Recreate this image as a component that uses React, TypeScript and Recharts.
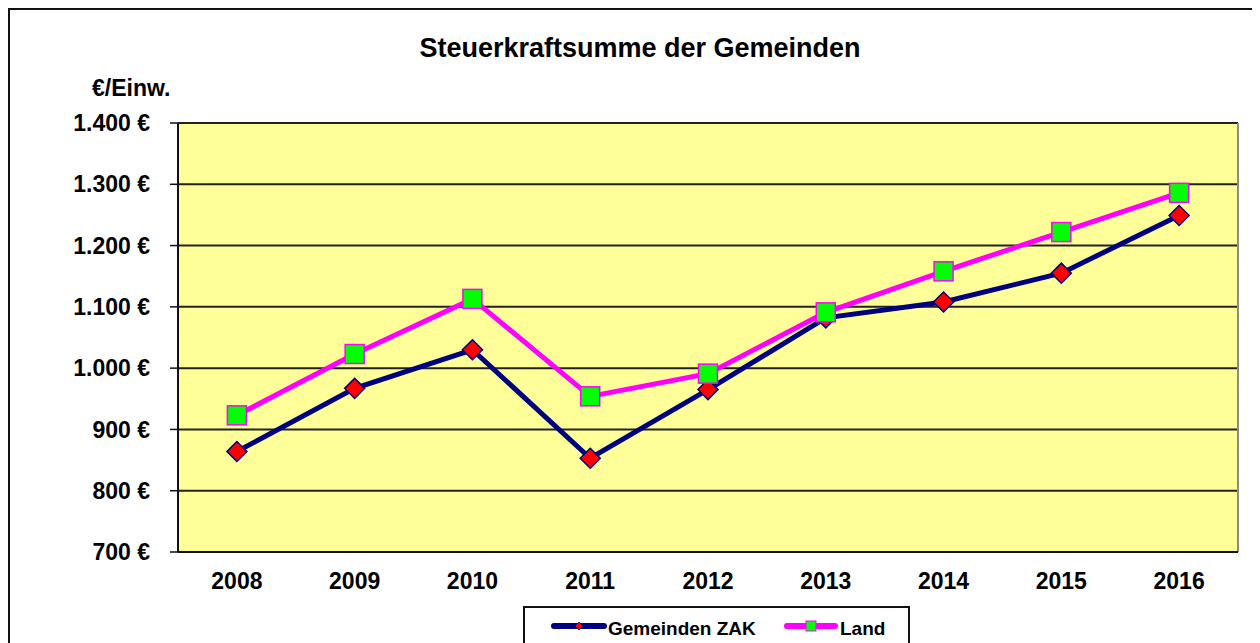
import React from 'react';
import { LineChart, Line, XAxis, YAxis, CartesianGrid, ReferenceLine } from 'recharts';

const years = ['2008', '2009', '2010', '2011', '2012', '2013', '2014', '2015', '2016'];
const zakValues = [864, 967, 1030, 853, 965, 1082, 1108, 1155, 1249];
const landValues = [923, 1023, 1113, 954, 991, 1091, 1158, 1222, 1286];
const yTicks = [700, 800, 900, 1000, 1100, 1200, 1300, 1400];
const seriesNames = ['Gemeinden ZAK', 'Land'];
const title = 'Steuerkraftsumme der Gemeinden';
const yUnit = '€/Einw.';

const data = years.map((year, i) => ({ pos: i + 0.5, year, zak: zakValues[i], land: landValues[i] }));
const boundaryTicks = years.map((_, i) => i).concat([years.length]);
const centerTicks = years.map((_, i) => i + 0.5);

const FONT = '"Liberation Sans", Arial, Helvetica, sans-serif';
const NAVY = '#000080';
const MAGENTA = '#FF00FF';
const RED = '#FF0000';
const GREEN = '#00FF00';

const fmtY = (v: number) => String(v).replace(/\B(?=(\d{3})+(?!\d))/g, '.') + ' €';
const fmtX = (v: number) => years[Math.round(v - 0.5)] ?? '';

const Diamond = (props: any) => {
  const { cx, cy, index } = props;
  if (cx == null || cy == null) return <g key={'d' + index} />;
  const r = 10;
  return (
    <path
      key={'d' + index}
      d={`M${cx},${cy - r}L${cx + r},${cy}L${cx},${cy + r}L${cx - r},${cy}Z`}
      fill={RED}
      stroke={NAVY}
      strokeWidth={1.5}
    />
  );
};

const Square = (props: any) => {
  const { cx, cy, index } = props;
  if (cx == null || cy == null) return <g key={'s' + index} />;
  const s = 19;
  return (
    <rect
      key={'s' + index}
      x={cx - s / 2}
      y={cy - s / 2}
      width={s}
      height={s}
      fill={GREEN}
      stroke={MAGENTA}
      strokeWidth={1.5}
    />
  );
};

export default function App() {
  return (
    <div>
      <style>{'html,body{overflow:hidden}'}</style>
      <div
        style={{
          position: 'relative',
          width: 1400,
          height: 700,
          borderTop: '2px solid #111',
          borderLeft: '2px solid #111',
          background: '#fff',
          fontFamily: FONT,
        }}
      >
        <div
          style={{
            position: 'absolute',
            left: 0,
            top: 25,
            width: 1260,
            textAlign: 'center',
            fontSize: 27,
            lineHeight: '27px',
            fontWeight: 'bold',
            color: '#000',
          }}
        >
          {title}
        </div>
        <div
          style={{
            position: 'absolute',
            left: 82,
            top: 67,
            fontSize: 23,
            lineHeight: '23px',
            fontWeight: 'bold',
            color: '#000',
          }}
        >
          {yUnit}
        </div>
        <LineChart width={1260} height={640} data={data} margin={{ top: 113, right: 32, bottom: 58, left: 0 }}>
          <CartesianGrid horizontal vertical={false} stroke="#222" strokeWidth={2} fill="#FFFF99" fillOpacity={1} />
          <XAxis
            type="number"
            dataKey="pos"
            domain={[0, years.length]}
            ticks={boundaryTicks}
            tick={false}
            tickSize={7}
            height={10}
            axisLine={{ stroke: '#111', strokeWidth: 2 }}
            tickLine={{ stroke: '#111', strokeWidth: 1.5 }}
            allowDataOverflow
          />
          <XAxis
            xAxisId="labels"
            type="number"
            dataKey="pos"
            domain={[0, years.length]}
            ticks={centerTicks}
            tickFormatter={fmtX}
            tickSize={0}
            tickMargin={11}
            height={30}
            axisLine={false}
            tickLine={false}
            interval={0}
            tick={{ fill: '#000', fontSize: 23, fontWeight: 'bold', fontFamily: FONT }}
            allowDataOverflow
          />
          <YAxis
            type="number"
            domain={[700, 1400]}
            ticks={yTicks}
            interval={0}
            width={168}
            tickSize={8}
            tickMargin={20}
            tickFormatter={fmtY}
            axisLine={{ stroke: '#111', strokeWidth: 2 }}
            tickLine={{ stroke: '#111', strokeWidth: 1.5 }}
            tick={{ fill: '#000', fontSize: 23, fontWeight: 'bold', fontFamily: FONT }}
            allowDataOverflow
          />
          <ReferenceLine x={years.length} stroke="#8a8a8a" strokeWidth={2} />
          <Line
            type="linear"
            dataKey="zak"
            name={seriesNames[0]}
            stroke={NAVY}
            strokeWidth={5}
            dot={Diamond}
            activeDot={false}
            isAnimationActive={false}
          />
          <Line
            type="linear"
            dataKey="land"
            name={seriesNames[1]}
            stroke={MAGENTA}
            strokeWidth={5}
            dot={Square}
            activeDot={false}
            isAnimationActive={false}
          />
        </LineChart>
        <div
          style={{
            position: 'absolute',
            left: 513,
            top: 596,
            width: 387,
            height: 60,
            border: '2px solid #111',
            boxSizing: 'border-box',
            background: '#fff',
          }}
        >
          <svg style={{ position: 'absolute', left: 26, top: 8 }} width={56} height={20}>
            <line x1={3} y1={10} x2={53} y2={10} stroke={NAVY} strokeWidth={6} strokeLinecap="round" />
            <path d="M28,6L32,10L28,14L24,10Z" fill={RED} stroke={NAVY} strokeWidth={0.8} />
          </svg>
          <div
            style={{
              position: 'absolute',
              left: 83,
              top: 11,
              fontSize: 19,
              lineHeight: '19px',
              fontWeight: 'bold',
              whiteSpace: 'nowrap',
            }}
          >
            {seriesNames[0]}
          </div>
          <svg style={{ position: 'absolute', left: 259, top: 8 }} width={54} height={20}>
            <line x1={3} y1={10} x2={51} y2={10} stroke={MAGENTA} strokeWidth={6} strokeLinecap="round" />
            <rect x={22} y={5} width={10} height={10} fill={GREEN} stroke={MAGENTA} strokeWidth={1} />
          </svg>
          <div
            style={{
              position: 'absolute',
              left: 315,
              top: 11,
              fontSize: 19,
              lineHeight: '19px',
              fontWeight: 'bold',
              whiteSpace: 'nowrap',
            }}
          >
            {seriesNames[1]}
          </div>
        </div>
      </div>
    </div>
  );
}
